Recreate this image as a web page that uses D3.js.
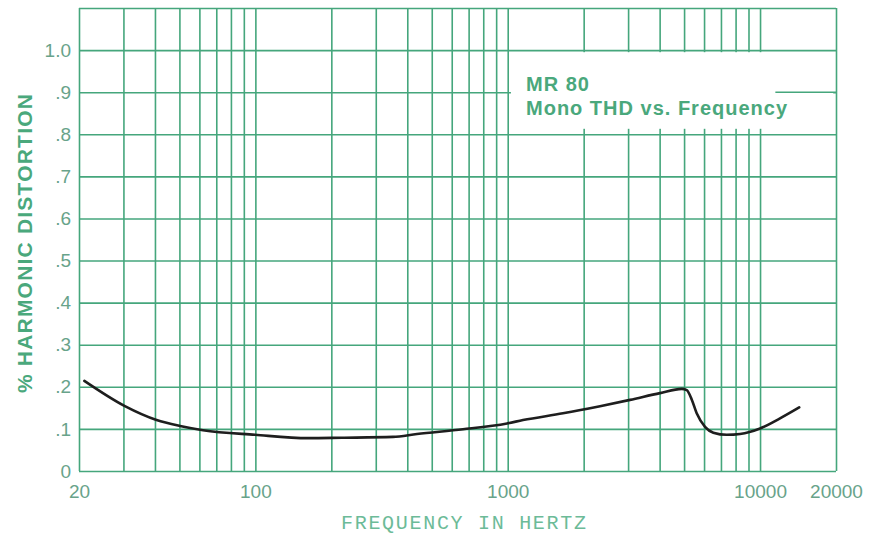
<!DOCTYPE html>
<html>
<head>
<meta charset="utf-8">
<script src="https://cdn.jsdelivr.net/npm/d3@7"></script>
<style>
  html, body { margin: 0; padding: 0; background: #ffffff; }
  svg { display: block; }
</style>
</head>
<body>
<svg id="chart" width="875" height="540"></svg>
<script>
// ---- data ----
const freqHz = [21, 30.4, 40.6, 50.3, 62, 99.7, 162, 220, 351, 437, 665, 994, 1150, 1656, 2322, 3053, 4014, 4894, 5122, 5360, 5610, 6054, 6530, 7376, 8332, 10000, 12000, 14300];
const thdPct = [0.214, 0.154, 0.121, 0.107, 0.097, 0.086, 0.078, 0.079, 0.081, 0.088, 0.099, 0.113, 0.121, 0.137, 0.154, 0.169, 0.185, 0.195, 0.192, 0.170, 0.137, 0.105, 0.091, 0.086, 0.088, 0.101, 0.125, 0.151];
const xGridTicks = [20, 30, 40, 50, 60, 70, 80, 90, 100, 200, 300, 400, 500, 600, 700, 800, 900, 1000, 2000, 3000, 4000, 5000, 6000, 7000, 8000, 9000, 10000, 20000];
const xLabelTicks = [20, 100, 1000, 10000, 20000];
const yGridTicks = [0, 0.1, 0.2, 0.3, 0.4, 0.5, 0.6, 0.7, 0.8, 0.9, 1.0, 1.1];
const yLabelTicks = [0, 0.1, 0.2, 0.3, 0.4, 0.5, 0.6, 0.7, 0.8, 0.9, 1.0];
const yLabelText = ["0", ".1", ".2", ".3", ".4", ".5", ".6", ".7", ".8", ".9", "1.0"];
const titleLines = ["MR 80", "Mono THD vs. Frequency"];
const xTitle = "FREQUENCY IN HERTZ";
const yTitle = "% HARMONIC DISTORTION";

// ---- layout ----
const L = 79, R = 836, T = 8, B = 471;
const gridColor = "#45a67c";
const labelColor = "#68a38a";
const titleColor = "#4aa87c";

const svg = d3.select("#chart");
const x = d3.scaleLog().domain([20, 20000]).range([L, R]);
const y = d3.scaleLinear().domain([0, 1.1]).range([B, T]);

// vertical grid
const gx = svg.append("g").attr("transform", `translate(0,${B})`)
  .call(d3.axisBottom(x).tickValues(xGridTicks).tickFormat("").tickSize(-(B - T)).tickSizeOuter(0));
gx.select(".domain").remove();
gx.selectAll("line").attr("stroke", gridColor).attr("stroke-width", 1.6);

// horizontal grid
const gy = svg.append("g").attr("transform", `translate(${L},0)`)
  .call(d3.axisLeft(y).tickValues(yGridTicks).tickFormat("").tickSize(-(R - L)).tickSizeOuter(0));
gy.select(".domain").remove();
gy.selectAll("line").attr("stroke", gridColor).attr("stroke-width", 1.6);

// white panel behind title
svg.append("rect")
  .attr("x", x(1030)).attr("y", y(0.995))
  .attr("width", x(19500) - x(1030)).attr("height", y(0.813) - y(0.995))
  .attr("fill", "#ffffff");
// .9 line visible to the right of the title
svg.append("line")
  .attr("x1", x(11500)).attr("x2", R)
  .attr("y1", y(0.9)).attr("y2", y(0.9))
  .attr("stroke", gridColor).attr("stroke-width", 1.6);

// x labels
const ax = svg.append("g").attr("transform", `translate(0,${B})`)
  .call(d3.axisBottom(x).tickValues(xLabelTicks).tickFormat(d3.format("d")).tickSize(0).tickPadding(14));
ax.select(".domain").remove();
ax.selectAll("text")
  .attr("font-family", "'Liberation Sans', Arial, sans-serif")
  .attr("font-size", 19).attr("fill", labelColor);

// y labels
const ay = svg.append("g").attr("transform", `translate(${L},0)`)
  .call(d3.axisLeft(y).tickValues(yLabelTicks).tickFormat((d, i) => yLabelText[i]).tickSize(0).tickPadding(8));
ay.select(".domain").remove();
ay.selectAll("text")
  .attr("font-family", "'Liberation Sans', Arial, sans-serif")
  .attr("font-size", 19).attr("fill", labelColor);

// curve
const pts = freqHz.map((f, i) => [f, thdPct[i]]);
svg.append("path")
  .datum(pts)
  .attr("d", d3.line().x(d => x(d[0])).y(d => y(d[1])).curve(d3.curveMonotoneX))
  .attr("fill", "none").attr("stroke", "#1e1e1e").attr("stroke-width", 2.6)
  .attr("stroke-linecap", "round");

// title
const tt = svg.append("text")
  .attr("font-family", "'Liberation Sans', Arial, sans-serif")
  .attr("font-weight", "bold").attr("font-size", 20)
  .attr("fill", titleColor).attr("letter-spacing", 1.0);
tt.selectAll("tspan").data(titleLines).join("tspan")
  .attr("x", 526).attr("y", (d, i) => 91 + i * 24).text(d => d);

// x title
svg.append("text")
  .attr("x", 341).attr("y", 529)
  .attr("font-family", "'Liberation Mono', 'DejaVu Sans Mono', monospace")
  .attr("font-size", 20).attr("letter-spacing", 1.7)
  .attr("fill", "#6cbb98")
  .text(xTitle);

// y title
svg.append("text")
  .attr("transform", "translate(32,243) rotate(-90)")
  .attr("text-anchor", "middle")
  .attr("font-family", "'Liberation Sans', Arial, sans-serif")
  .attr("font-weight", "bold").attr("font-size", 21)
  .attr("letter-spacing", 1.2)
  .attr("fill", titleColor)
  .text(yTitle);
</script>
</body>
</html>
